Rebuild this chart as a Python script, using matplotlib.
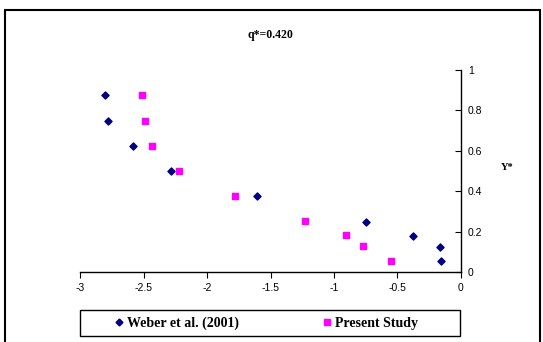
import matplotlib
matplotlib.use("Agg")
import matplotlib.pyplot as plt
from matplotlib.patches import Rectangle
from matplotlib.lines import Line2D

# data
weber_x = [-2.80, -2.78, -2.585, -2.285, -1.61, -0.75, -0.377, -0.164, -0.156]
weber_y = [0.875, 0.75, 0.625, 0.50, 0.375, 0.25, 0.18, 0.125, 0.055]
present_x = [-2.51, -2.49, -2.435, -2.223, -1.781, -1.227, -0.903, -0.772, -0.551]
present_y = [0.875, 0.75, 0.625, 0.50, 0.377, 0.252, 0.181, 0.127, 0.056]
x_ticks = [-3, -2.5, -2, -1.5, -1, -0.5, 0]
y_ticks = [0, 0.2, 0.4, 0.6, 0.8, 1]
title = "q*=0.420"
labels = ["Weber et al. (2001)", "Present Study"]

W, H = 543, 342
fig = plt.figure(figsize=(W / 100, H / 100), dpi=100)
ax = fig.add_axes([80 / W, 1 - 272 / H, 381 / W, 202 / H])

ax.scatter(weber_x, weber_y, marker="D", s=13, color="#000080", zorder=3)
ax.scatter(present_x, present_y, marker="s", s=22, color="#FF00FF", zorder=3)

ax.set_xlim(-3, 0)
ax.set_ylim(0, 1)
ax.set_xticks(x_ticks)
ax.set_xticklabels([f"{t:g}" for t in x_ticks])
ax.set_yticks(y_ticks)
ax.set_yticklabels([f"{t:g}" for t in y_ticks])
ax.spines["left"].set_visible(False)
ax.spines["top"].set_visible(False)
for s in ["right", "bottom"]:
    ax.spines[s].set_color("black")
    ax.spines[s].set_linewidth(1.0)
ax.yaxis.tick_right()
ax.tick_params(axis="y", direction="in", length=4, pad=5, labelsize=7.5,
               labelfontfamily="Liberation Sans")
ax.tick_params(axis="x", direction="out", length=4, pad=4, labelsize=7.5,
               labelfontfamily="Liberation Sans")
ax.patch.set_alpha(0)

fig.text(270 / W, 1 - 35 / H, title, ha="center", va="center", fontsize=8.5,
         fontweight="bold", family="Liberation Serif")
fig.text(507 / W, 1 - 168 / H, "Y*", ha="center", va="center", fontsize=7.5,
         fontweight="bold", family="Liberation Serif")

# outer chart border
fig.patches.append(Rectangle((5 / W, -0.1), 535 / W, 1.1 - 10 / H,
                             transform=fig.transFigure, fill=False,
                             edgecolor="black", linewidth=1.5, clip_on=False))
# legend box
fig.patches.append(Rectangle((80 / W, 1 - 336 / H), 380 / W, 26 / H,
                             transform=fig.transFigure, fill=False,
                             edgecolor="black", linewidth=1.0))
handles = [Line2D([], [], marker="D", ls="", color="#000080", markersize=3.5),
           Line2D([], [], marker="s", ls="", color="#FF00FF", markersize=4.5)]
fig.legend(handles, labels, loc="center", bbox_to_anchor=(265 / W, 1 - 323 / H),
           ncol=2, frameon=False, columnspacing=5.8, handletextpad=0.1,
           handlelength=1.0, prop={"family": "Liberation Serif", "weight": "bold", "size": 10})

fig.savefig("out.png", dpi=100)
